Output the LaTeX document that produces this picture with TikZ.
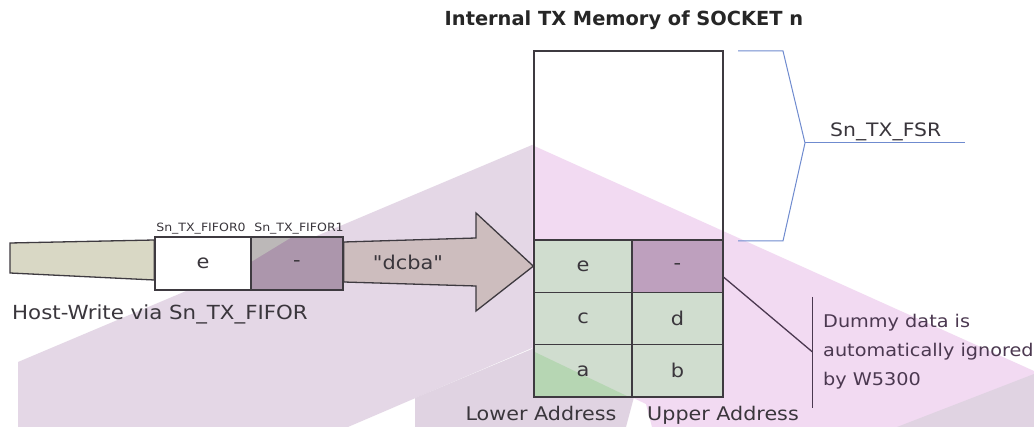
\documentclass[tikz,border=0pt]{standalone}
\usepackage{fontspec}
\setmainfont[FakeStretch=1.1]{DejaVu Sans}
\newfontfamily\headfont{DejaVu Sans}
\newfontfamily\quotefont[FakeStretch=1.1, Ligatures=TeXOff]{DejaVu Sans}
\usetikzlibrary{calc}

\definecolor{linecol}{HTML}{3E3A40}
\definecolor{textcol}{HTML}{3A363C}
\definecolor{notecol}{HTML}{4B3850}
\definecolor{bracecol}{HTML}{6F8BCF}
\definecolor{cellgreen}{HTML}{D0DDCF}
\definecolor{deepgreen}{HTML}{B6D6B3}
\definecolor{padpurple}{HTML}{BEA0BE}
\definecolor{fifopurple}{HTML}{AC96AC}
\definecolor{fifogray}{HTML}{BCB8B8}
\definecolor{tailolive}{HTML}{D9D8C5}
\definecolor{arrowfill}{HTML}{CDBDBE}
\definecolor{lavwash}{HTML}{E4D7E6}
\definecolor{pinkwash}{HTML}{F2DAF2}
\definecolor{greywash}{HTML}{E0D3E2}

\begin{document}
\begin{tikzpicture}[x=1pt, y=-1pt, node distance=52.33pt]
    \tikzstyle{cell} = [rectangle, draw=linecol, line width=1.3pt, fill=cellgreen, minimum width=98pt, minimum height=52.33pt, inner sep=0pt, text=textcol, font=\fontsize{19}{22}\selectfont]
    \tikzstyle{padcell} = [cell, minimum width=91pt]
    \tikzstyle{fifo} = [cell, fill=white, minimum height=53pt]
    \tikzstyle{txt} = [text=textcol, inner sep=0pt, font=\fontsize{19}{22}\selectfont]
    \tikzstyle{outline} = [draw=linecol, line width=1.3pt, line join=miter]
    \tikzstyle{brace} = [draw=bracecol, line width=1pt]
    \tikzstyle{note} = [draw=notecol, line width=1.3pt]

    \path[use as bounding box, fill=white] (0,0) rectangle (1034,427);

    % background wash
    \fill[lavwash] (532,145) -- (18,362) -- (18,427) -- (348,427) -- (532,348) -- cycle;
    \fill[pinkwash] (532,145) -- (1034,371) -- (1034,427) -- (652,427) -- (646,404) -- (532,350) -- cycle;
    \fill[greywash] (415,398) -- (532,349) -- (634,397) -- (626,427) -- (415,427) -- cycle;
    \fill[greywash] (897,427) -- (1034,374) -- (1034,427) -- cycle;

    \node (title) [txt, anchor=base, text=black!85, font=\headfont\bfseries\fontsize{19.4}{23}\selectfont] at (624,26) {Internal TX Memory of SOCKET n};

    % memory of socket n
    \node (memtop) [rectangle, draw=linecol, line width=1.3pt, minimum width=189pt, minimum height=189pt] at (628.5,145.5) {};

    \node (cellE) [cell] at (583,266.17) {e};
    \node (cellC) [cell, below of=cellE] {c};
    \node (cellA) [cell, below of=cellC, path picture={\fill[deepgreen] ([yshift=-7pt]path picture bounding box.north west) -- ([xshift=-3pt]path picture bounding box.south east) -- (path picture bounding box.south west) -- cycle;}] {a};

    \node (padE) [padcell, fill=padpurple] at (677.5,266.17) {-};
    \node (cellD) [padcell, below of=padE] {d};
    \node (cellB) [padcell, below of=cellD] {b};

    \node (lower) [txt, anchor=base, font=\fontsize{18.8}{22}\selectfont] at (541,421) {Lower Address};
    \node (upper) [txt, anchor=base, font=\fontsize{18.8}{22}\selectfont] at (723,421) {Upper Address};

    % host side
    \node (fifoE) [fifo, minimum width=96pt] at (203,263.5) {e};
    \node (fifoPad) [fifo, minimum width=92pt, fill=fifopurple, path picture={\fill[fifogray] (path picture bounding box.north west) -- ++(41pt,0pt) -- ([yshift=-25pt]path picture bounding box.north west) -- cycle;}] at (297,263.5) {-};

    \node (fifo0) [txt, anchor=base, font=\fontsize{11.4}{14}\selectfont] at (201,232) {Sn\_TX\_FIFOR0};
    \node (fifo1) [txt, anchor=base, font=\fontsize{11.4}{14}\selectfont] at (299,232) {Sn\_TX\_FIFOR1};

    \draw[outline, fill=tailolive] (10,243) -- ([yshift=23.5pt]fifoE.west) -- ([yshift=-16.5pt]fifoE.west) -- (10,273) -- cycle;

    \draw[outline, fill=arrowfill] ([yshift=21.5pt]fifoPad.east) -- (476,238) -- (476,213) -- (cellE.west) -- (476,311) -- (476,286) -- ([yshift=-18.5pt]fifoPad.east) -- cycle;
    \node (dcba) [txt, font=\quotefont\fontsize{19}{22}\selectfont] at (408,262) {"dcba"};

    \node (host) [txt, anchor=base west, font=\fontsize{19.4}{23}\selectfont] at (12,320) {Host-Write via Sn\_TX\_FIFOR};

    % free size brace
    \coordinate (fsrtip) at (805,143);
    \draw[brace] (738,51) -- (783,51) -- (fsrtip) -- (783,241) -- (738,241);
    \draw[brace] (fsrtip) -- (965,143);
    \node (fsr) [txt, anchor=base west, font=\fontsize{18.5}{22}\selectfont] at (830,137) {Sn\_TX\_FSR};

    % dummy note
    \coordinate (notetip) at (812.5,352);
    \draw[note] ([yshift=-11pt]padE.east) -- (notetip);
    \draw[note] (812.5,297) -- (812.5,408);
    \node (dummy) [txt, text=notecol, anchor=north west, align=left, font=\fontsize{17.5}{29}\selectfont] at (823,314.5) {Dummy data is\\automatically ignored\\by W5300};
\end{tikzpicture}
\end{document}
